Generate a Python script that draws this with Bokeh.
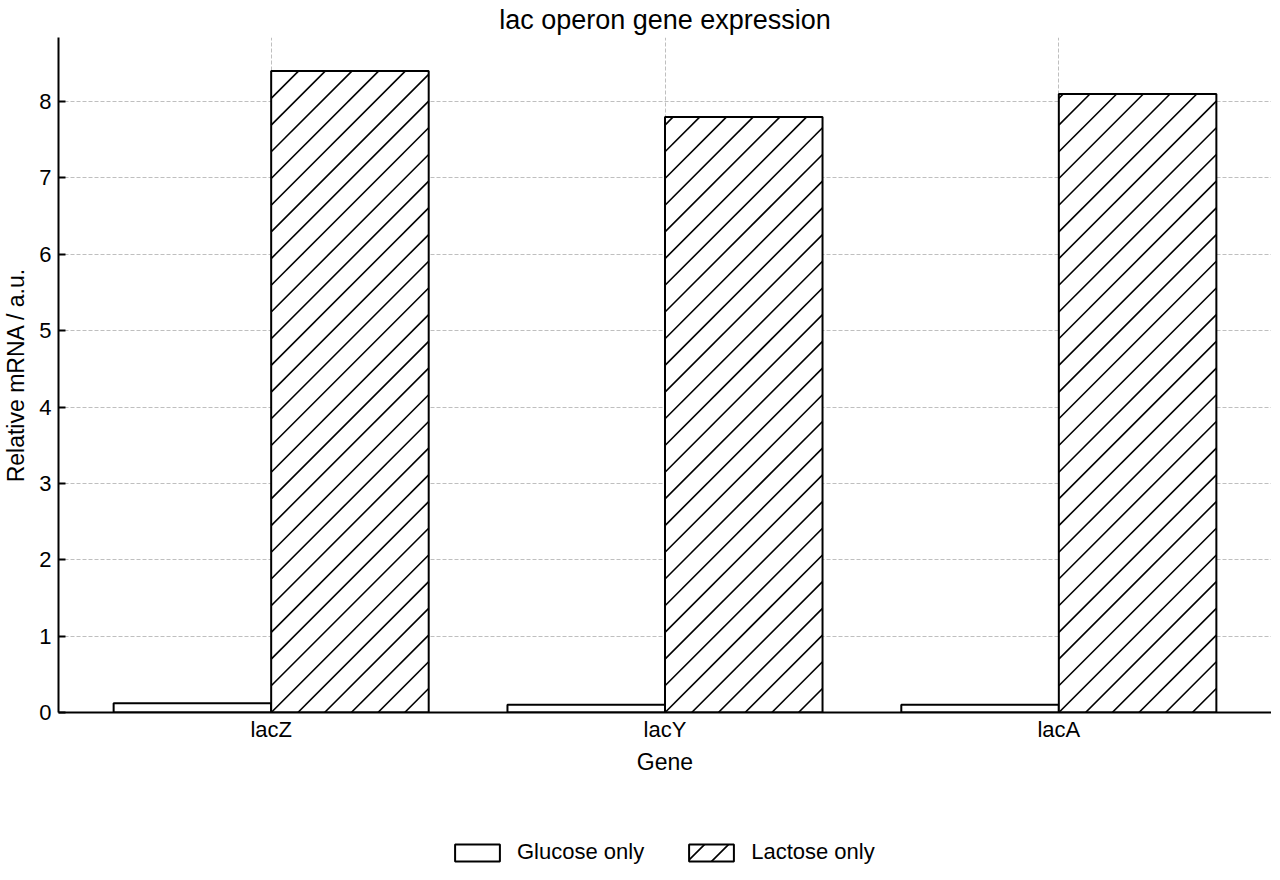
import base64
from bokeh.plotting import figure
from bokeh.layouts import column
from bokeh.models import ColumnDataSource, FactorRange, Range1d, Legend, LegendItem, ImageURLTexture
from bokeh.core.properties import value
from bokeh.transform import dodge
from bokeh.embed import file_html
from bokeh.resources import INLINE

genes = ["lacZ", "lacY", "lacA"]
glucose_only = [0.12, 0.10, 0.10]
lactose_only = [8.40, 7.80, 8.10]

FONT = "Liberation Sans"

# layout constants
FRAME_W, FRAME_H = 1213, 675
PAD = 0.04
Y_MAX = 8.84
BAR_W = 0.4
HATCH_STEP = 26.7  # px

src = ColumnDataSource(data=dict(gene=genes, glucose=glucose_only, lactose=lactose_only))

# 45-degree hatch lines for the lactose bars, computed from the data
sx = FRAME_W / (len(genes) + 2 * PAD)
sy = FRAME_H / Y_MAX
hx, hy = [], []
for i, top in enumerate(lactose_only):
    x0 = i + 0.5
    W = BAR_W * sx
    H = top * sy
    k = -int(H // HATCH_STEP) - 1
    while k * HATCH_STEP < W:
        c = k * HATCH_STEP
        u0, v0 = (c, 0.0) if c >= 0 else (0.0, -c)
        v1 = min(H, W - c)
        u1 = v1 + c
        if v1 > v0:
            hx.append([x0 + u0 / sx, x0 + u1 / sx])
            hy.append([v0 / sy, v1 / sy])
        k += 1

p = figure(
    frame_width=FRAME_W, frame_height=FRAME_H,
    x_range=FactorRange(*genes, range_padding=PAD, range_padding_units="absolute"),
    y_range=(0, Y_MAX),
    output_backend="svg", toolbar_location=None,
    min_border_left=0, min_border_right=0, min_border_top=0, min_border_bottom=95,
)
p.outline_line_color = None

p.title.text = "lac operon gene expression"
p.title.align = "center"
p.title.text_font = FONT
p.title.text_font_size = "27px"
p.title.text_font_style = "normal"
p.title.text_color = "black"
p.title.standoff = 5

p.vbar(x=dodge("gene", -0.2, range=p.x_range), top="glucose", width=BAR_W, source=src,
       fill_color="white", line_color="black", line_width=2)
p.vbar(x=dodge("gene", 0.2, range=p.x_range), top="lactose", width=BAR_W, source=src,
       fill_color="white", line_color=None)
p.multi_line(xs=hx, ys=hy, line_color="black", line_width=1.6)
p.vbar(x=dodge("gene", 0.2, range=p.x_range), top="lactose", width=BAR_W, source=src,
       fill_color=None, line_color="black", line_width=2)

for ax in (p.xaxis[0], p.yaxis[0]):
    ax.axis_line_color = "black"
    ax.axis_line_width = 2
    ax.major_tick_in = 7
    ax.major_tick_out = 0
    ax.major_tick_line_width = 2
    ax.minor_tick_line_color = None
    ax.major_label_text_font = FONT
    ax.major_label_text_font_size = "22px"
    ax.major_label_text_color = "black"
    ax.axis_label_text_font = FONT
    ax.axis_label_text_font_size = "23px"
    ax.axis_label_text_font_style = "normal"
    ax.axis_label_text_color = "black"

p.yaxis.major_label_standoff = 7
p.yaxis.axis_label_standoff = 7
p.xaxis.major_label_standoff = 4
p.xaxis.axis_label_standoff = 4

p.xaxis.axis_label = "Gene"
p.yaxis.axis_label = "Relative mRNA / a.u."
p.yaxis.ticker = [0, 1, 2, 3, 4, 5, 6, 7, 8]
p.xaxis.major_tick_line_color = None

p.xgrid.grid_line_color = "#bfbfbf"
p.ygrid.grid_line_color = "#bfbfbf"
p.xgrid.grid_line_dash = "4 2"
p.ygrid.grid_line_dash = "4 2"
p.xgrid.grid_line_width = 1
p.ygrid.grid_line_width = 1

# legend strip (separate figure under the chart)
tile = ('<svg xmlns="http://www.w3.org/2000/svg" width="24" height="24">'
        '<path d="M0,24 L24,0 M-12,12 L12,-12 M12,36 L36,12" stroke="black" '
        'stroke-width="1.6" fill="none"/></svg>')
tex = ImageURLTexture(url="data:image/svg+xml;base64," + base64.b64encode(tile.encode()).decode())

lg = figure(width=1264, height=64, x_range=Range1d(0, 1), y_range=Range1d(0, 1),
            x_axis_type=None, y_axis_type=None, output_backend="svg", toolbar_location=None,
            min_border_left=0, min_border_right=0, min_border_top=0, min_border_bottom=0)
lg.outline_line_color = None
lg.xgrid.visible = False
lg.ygrid.visible = False
g1 = lg.vbar(x=[0.5], top=[1], width=0.1, fill_color="white", line_color="black", line_width=2,
             visible=False)
g2 = lg.vbar(x=[0.5], top=[1], width=0.1, fill_color="white", line_color="black", line_width=2,
             hatch_pattern=value("tex45"), hatch_extra={"tex45": tex}, hatch_color="black",
             visible=False)

legend = Legend(
    items=[LegendItem(label="Glucose only", renderers=[g1]),
           LegendItem(label="Lactose only", renderers=[g2])],
    orientation="horizontal", location=(391, 6),
    glyph_width=56, glyph_height=21, label_standoff=12, spacing=39,
    label_text_font=FONT, label_text_font_size="22px", label_text_color="black",
    border_line_color=None, background_fill_alpha=0,
    margin=0, padding=4,
)
lg.add_layout(legend, "center")

layout = column(p, lg, spacing=0)
open("out.html", "w").write(file_html(layout, INLINE))
